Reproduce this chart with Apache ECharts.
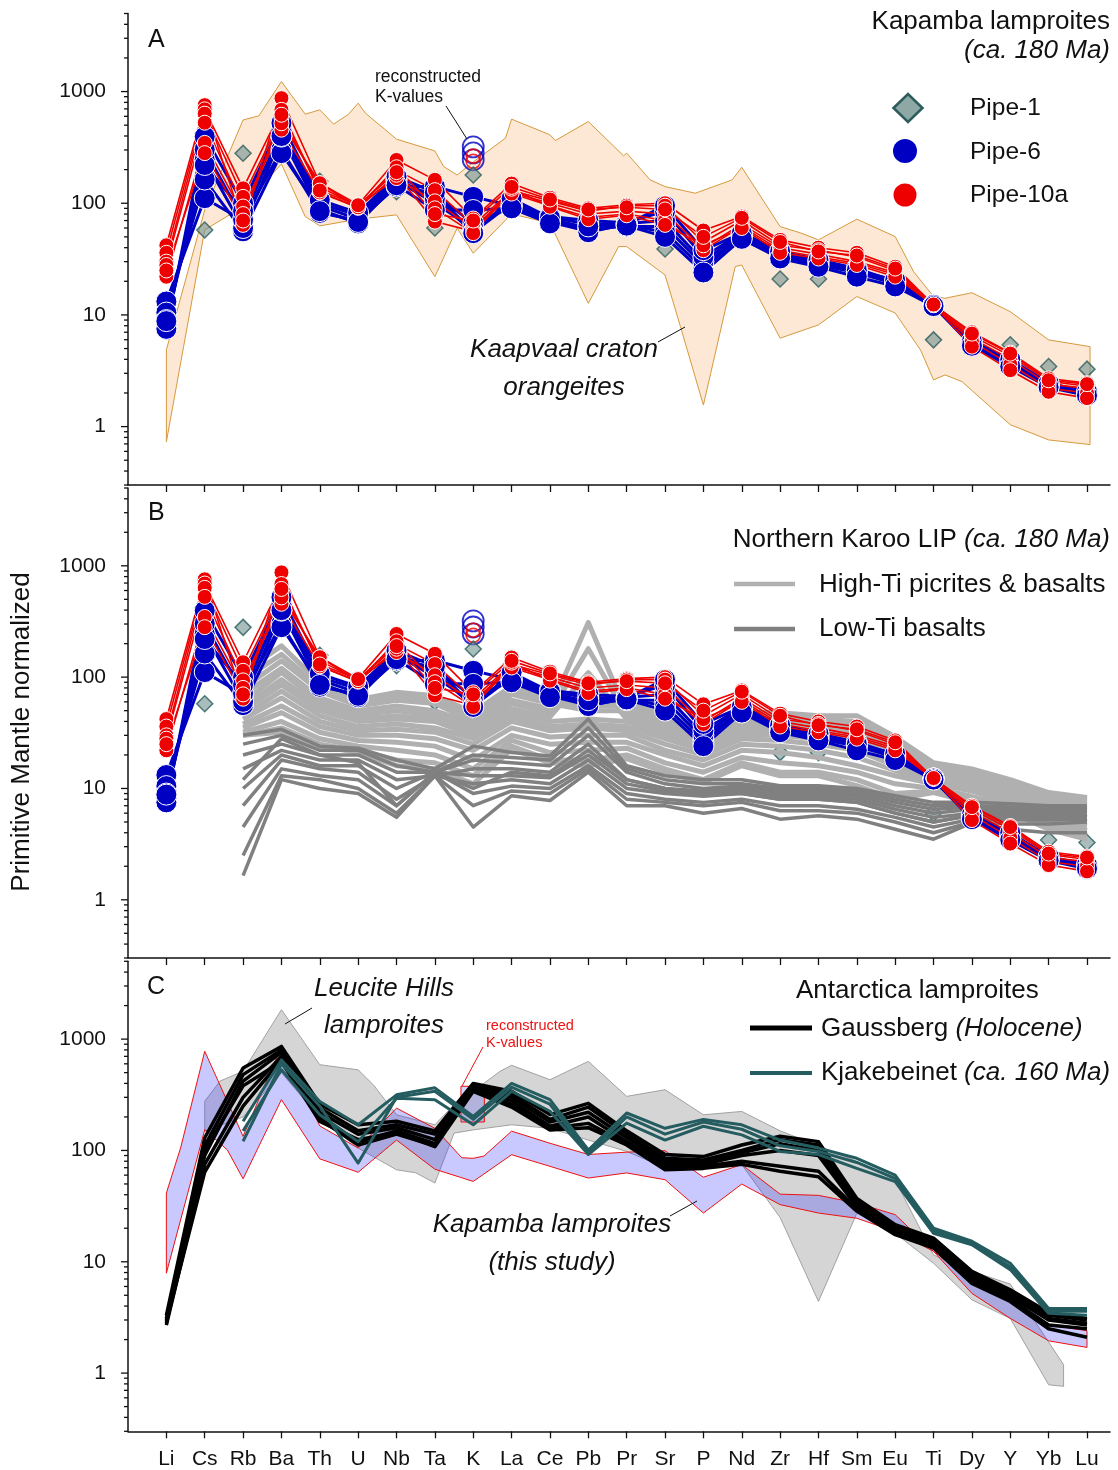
<!DOCTYPE html>
<html>
<head>
<meta charset="utf-8">
<title>Primitive-mantle normalized trace element patterns</title>
<script src="https://cdn.jsdelivr.net/npm/echarts@6/dist/echarts.min.js"></script>
<style>
  html, body { margin: 0; padding: 0; background: #fff; }
  #chart { width: 1118px; height: 1470px; }
</style>
</head>
<body>
<div id="chart"></div>
<script>
// ---------- element order (x axis) ----------
const elements = ['Li','Cs','Rb','Ba','Th','U','Nb','Ta','K','La','Ce','Pb','Pr','Sr','P','Nd','Zr','Hf','Sm','Eu','Ti','Dy','Y','Yb','Lu'];

// ---------- y axis ticks (log) ----------
const yLabelValues = [1, 10, 100, 1000];
const yTickMarks = [0.3,0.4,0.5,0.6,0.7,0.8,0.9,1,2,3,4,5,6,7,8,9,10,20,30,40,50,60,70,80,90,
                    100,200,300,400,500,600,700,800,900,1000,2000,3000,4000,5000];

// ---------- Kapamba lamproites (values Li..Lu) ----------
const pipe6 = [
  [13.2,111,70,302,82,70,141,141,114,95,72,60,62,62,28,50,33,28,24,19,12.3,5.5,3.7,2.35,1.98],
  [10.5,163,56,281,88,66,150,120,66,92,68,56,64,55,26,51,34,29,25,19.5,12.3,5.6,3.6,2.3,1.95],
  [9.0,245,60,395,95,72,160,100,60,97,75,65,66,70,30,53,36,30,25,20,12.3,5.4,3.5,2.3,1.93],
  [8.2,302,71,450,100,78,165,110,55,100,76,70,67,85,33,54,37,31,26,20,12.2,5.7,3.9,2.4,2.0],
  [7.5,395,100,523,107,82,173,125,54,110,74,55,65,95,38,54,37,31,25,20.5,12.3,5.8,4.0,2.45,2.05],
  [8.8,220,85,400,85,68,145,87,87,90,66,62,63,50,24,48,32,27,22,18,12.0,5.3,3.45,2.25,1.9]
];
const pipe10a = [
  [42,756,64,873,151,97,244,162,73,150,112,90,97,100,57,76,47,40,36,27,12.3,7.0,4.6,2.7,2.45],
  [36,693,136,686,125,93,198,131,64,130,105,85,95,95,45,70,42,38,33,25,12.3,6.5,4.3,2.55,2.3],
  [30,634,114,580,140,95,168,104,60,125,100,80,85,80,40,65,40,35,30,24,12.3,6.2,4.0,2.4,2.2],
  [28,526,93.5,456,125,91,180,68.5,56,122,95,75,80,70,38,62,38,33,29,23,12.3,5.8,3.6,2.2,2.0],
  [22,347,80,520,151,92,210,90,54,135,93,72,78,64,42,60,36,32,28,22,12.2,5.2,3.2,2.05,1.8],
  [25,281,70,620,130,96,190,80,70,140,108,88,92,88,50,74,45,37,34,26,12.4,6.8,4.5,2.6,2.4]
];
const pipe1 = [7.9,57.6,280,277,157,68.5,127,60,179,131,71,87,64,38.9,42.4,50.4,21,21,23.6,17.9,5.98,6.4,5.4,3.45,3.27];
const pipe6ReconstructedK = [320, 282, 245];
const pipe10aReconstructedK = [264, 237];
const kIndex = elements.indexOf('K');

// ---------- Kaapvaal craton orangeite field: [element position, value] ----------
const orangeiteUpper = [[0,4.86],[1,87],[2,557],[2.41,606],[3,1229],[3.62,627],[4,686],[4.36,511],[4.75,627],[5,787],
  [5.19,640],[6,375],[7,294],[7.23,213],[7.58,179],[8,234],[8.84,383],[9,566],[10,410],[10.14,364],[11,539],
  [11.92,266],[12,281],[12.61,162],[13,141],[13.79,123],[14.75,162],[15,210],[16,61.8],[16.53,54.3],[17,47],
  [18,72],[19,50.3],[19.48,24.4],[20,14.6],[20.3,14.1],[21,15.8],[22,10.7],[23,5.98],[24.08,5.2]];
const orangeiteLower = [[0,0.73],[1,57.7],[2,93.3],[3,225],[3.62,76],[4,62.7],[5,72],[6,78.7],[7,22],[7.58,59.8],
  [8,35.7],[9,80.3],[10,66.3],[11,12.7],[11.79,40.9],[12,40.9],[13,22.8],[13.4,7.9],[14,1.56],[14.83,27.1],
  [15,28],[16,6.19],[17,8.14],[18,14.6],[19,10.4],[19.66,4.86],[20,2.62],[20.3,2.9],[20.74,2.53],[22,1.04],
  [23,0.76],[24.08,0.69]];

// ---------- Northern Karoo LIP (values Rb..Lu) ----------
const karooStart = elements.indexOf('Rb');
const karooHighTi = [
  [110,191,89,63,73,68,48,83,68,59,59,45,34,48,48,45,45,29,17,15,12,9.2,8.3],
  [95,160,80,60,68,62,45,75,62,55,55,42,33,44,45,42,40,27,16.5,14,11.5,8.8,8],
  [80,140,75,55,62,58,40,70,58,50,50,40,30,42,42,40,38,26,16,13.5,11,8.5,7.6],
  [70,120,65,50,55,50,38,62,52,310,48,37,28,40,40,37,35,24,15,13,10.5,8,7.2],
  [60,110,60,46,50,46,35,58,48,180,45,35,27,37,38,35,33,23,14.5,12.5,10,7.7,7],
  [55,95,55,42,45,42,32,52,44,110,42,32,25,35,35,32,30,21,14,12,9.5,7.3,6.6],
  [50,85,50,40,42,40,30,48,40,42,40,30,24,32,32,30,28,20,13.5,11.5,9.2,7,6.3],
  [45,75,45,36,38,35,28,44,36,38,36,28,22,30,30,28,25,18,13,11,8.8,6.6,6],
  [42,65,40,33,34,32,25,40,33,35,33,25,20,28,27,25,22,16,12,10.5,8.3,6.2,5.5],
  [38,55,36,30,30,28,22,35,29,30,30,22,18,25,24,22,19,14.5,11.5,10,7.8,5.8,5],
  [35,48,32,27,26,24,18,30,25,26,26,20,16,22,21,19,16,13,11,9.5,7.3,5.3,4.6],
  [32,40,28,24,22,20,15,27,21,22,23,17,14,19,17,16,14,11,10,8.5,6.8,5,4.2],
  [30,35,25,22,18,17,13,24,18,18,20,15,12,17,14,14,12,9,9.5,8,6.4,4.6,3.8],
  [30,32,24,21,16,15,11,22.6,17,16,18.5,14,11.3,16,13,13,10.6,8,9.2,7.5,6.1,4.3,3.5]
];
const karooLowTi = [
  [30,34,24,23,18,15,24,21,19.6,42,16,13,12,12,10.6,10.6,10,8.6,7.5,7.5,7.3,7,7],
  [25,30,22,22,16,14,20,19,18,35,15,12,11,11,10,10,9.5,8,7,7,6.8,6.7,6.8],
  [20,25,20,20,14,14,18,17,16,30,14,11,10,10.5,9.5,9.5,9,7.5,6.5,6.8,6.5,6.5,6.5],
  [15,22,18,18,12,13,15,15,14,25,12,10,9.5,10,9,9,8.5,7,6,6.5,6.2,6.2,6.2],
  [10,20,16,16,10,14,13,13,12.5,20,11,9.5,9,9.5,8.5,8.5,8,6.5,5.5,6,6,6,6],
  [7,18,15,14,8,13,11,12,11,18,10,9,8.5,9,8,8,7.5,6,5,5.7,5.6,5.6,5.6],
  [4.5,15,13,12,7,14,9,10.5,10,16,9,8,7.5,8,7,7,6.5,5.5,4.5,5.3,5.2,5.2,5.3],
  [2.5,13,12,10,6,13,7,9.5,9,15,8,7.5,7,7.5,6.3,6.3,6,5,4,5,4.8,4.8,5],
  [1.65,12,10,9,5.5,13,4.5,8.6,7.8,14,7,7,6,6.6,5.3,5.7,5.3,4.3,3.5,4.9,4.3,4,4],
  [12,28,20,17,7,14,10,14,13,22,12,10,9,9,8,8,7.5,6,5,5.8,5.5,5.4,5.5]
];

// ---------- Leucite Hills lamproite field: [element position, value] ----------
const leuciteUpper = [[1,276],[1.4,420],[2,514],[3,1837],[4,589],[5,530],[5.4,387],[6,209],[7,170],[7.5,258],
  [8,340],[8.7,514],[9,582],[10,432],[11,631],[12,306],[13,351],[14,209],[15,224],[16,150],[17,110],[18,80],
  [19,54],[20,11.5],[21,8.2],[22,6.3],[23.39,1.19]];
const leuciteLower = [[1,149],[2,200],[3,500],[4,195],[5,105],[6,67],[6.5,63],[7,51],[7.5,143],[8,153],[9,170],
  [10,158],[11,124],[12,98],[13,70],[14,69],[15,74.5],[16,25],[17,4.4],[18,27.3],[19,18],[20,9.7],[21,4.55],
  [22,3.1],[23,0.785],[23.39,0.76]];

// ---------- Kapamba lamproite field (panel C): [element position, value] ----------
const kapambaUpper = [[0,41.4],[0.37,105],[1,777],[2,134],[3,862],[4,166],[5,105],[6,240],[7,158],[7.7,86],[8,85],
  [8.28,89],[9,149],[10,116],[11,92],[12,96.5],[13,99.5],[14,57.5],[15,74.5],[16,40.5],[17,39.5],[18,33.7],
  [19,26.5],[20,12.4],[21,6.9],[22,4.7],[23,2.72],[24,2.4]];
const kapambaLower = [[0,7.9],[1,153.5],[1.59,101],[2,55.6],[3,286],[4,84],[5,63.7],[6,124],[7,67.8],[8,52.7],
  [9,91.5],[10,72],[11,56.5],[12,62.8],[13,54.6],[14,27.4],[15,49.9],[16,32.6],[17,27.4],[18,24.6],[19,18.7],
  [20,12.4],[21,5.2],[22,3.1],[23,1.95],[24,1.7]];
const reconstructedKBox = { from: 7.68, to: 8.29, low: 180, high: 377 };

// ---------- Antarctica lamproites ----------
const gaussberg = [   // Li..Lu
  [3.3,130,550,860,260,170,183,150,400,340,210,265,150,92,88,112,134,120,37,21.5,16.3,8.2,5.6,3.5,3.1],
  [3.0,110,480,800,240,150,170,140,390,320,190,245,140,85,82,100,125,112,35,20.5,15.5,7.8,5.3,3.3,3.0],
  [2.8,90,420,760,220,140,160,125,370,300,180,220,130,80,78,95,115,100,33,19.5,15,7.4,5.1,3.1,2.8],
  [2.7,75,300,700,200,120,150,115,360,280,165,200,120,75,75,90,100,90,31,19,14.5,7,4.9,3.0,2.7],
  [2.9,64,250,650,190,112,140,110,350,260,158,175,115,70,72,80,72,65,30,18,14,6.6,4.6,2.7,2.5],
  [3.1,100,380,630,182,125,145,108,340,245,153,160,112,67,69,75,65,58,28.5,17.5,13.3,6.4,4.4,2.5,2.1]
];
const kjakebeinetStart = elements.indexOf('Rb');
const kjakebeinet = [ // Rb..Lu
  [183,650,275,170,316,365,202,400,286,101,217,158,190,170,124,105,85,60,20,15.3,9.7,3.8,3.8],
  [121,600,250,77,300,340,190,370,260,95,200,140,180,155,110,98,78,56,19,14.7,9,3.6,3.6],
  [150,530,209,120,295,285,170,340,225,92,176,124,165,138,98,92,69,52.5,18,14.2,8.5,3.45,3.3]
];

// ---------- styling ----------
const FONT = '"Liberation Sans", Arial, Helvetica, sans-serif';
const INK = '#111';
const BLUE = '#0000c2';
const RED = '#ee0000';
const TEAL = '#245c60';
const HI_TI = '#b0b0b0';
const LO_TI = '#808080';
const TXT = 26;
const elementPositions = elements.map((_, i) => i);

const chart = echarts.init(document.getElementById('chart'), null, { renderer: 'canvas' });

const grids = [
  { left: 128, right: 8, top: 13.5, height: 471.5 },
  { left: 128, right: 8, top: 488, height: 470 },
  { left: 128, right: 8, top: 961.3, height: 470 }
];

function xAxisFor(g) {
  return {
    type: 'value', gridIndex: g, min: -1, max: 24.6, interval: 1,
    axisLine: { show: true, onZero: false, lineStyle: { color: INK, width: 1.5 } },
    axisTick: { show: true, inside: false, length: 7, customValues: elementPositions, lineStyle: { color: INK, width: 1.3 } },
    splitLine: { show: false },
    axisLabel: {
      show: g === 2, customValues: elementPositions, margin: 17,
      fontSize: 21, fontFamily: FONT, color: INK,
      formatter: v => (Number.isInteger(v) && v >= 0 && v < elements.length) ? elements[v] : ''
    }
  };
}
function yAxisFor(g) {
  return {
    type: 'log', logBase: 10, gridIndex: g, min: 0.3, max: 5000,
    axisLine: { show: true, onZero: false, lineStyle: { color: INK, width: 1.5 } },
    axisTick: { show: false },
    minorTick: { show: false },
    splitLine: { show: false },
    axisLabel: {
      margin: 22, fontSize: 21, fontFamily: FONT, color: INK,
      formatter: v => {
        const r = Math.round(v);
        return (Math.abs(v - r) < 1e-6 && yLabelValues.includes(r)) ? String(r) : '';
      }
    }
  };
}

const profile = (vals, start) => vals.map((v, i) => [start + i, v]);

function polygonSeries(g, upper, lower, style) {
  const pts = upper.concat(lower.slice().reverse());
  return {
    type: 'custom', xAxisIndex: g, yAxisIndex: g, silent: true, data: pts,
    renderItem(params, api) {
      if (params.dataIndex !== 0) return null;
      return { type: 'polygon', shape: { points: pts.map(p => api.coord(p)) }, style: style };
    }
  };
}
function tickSeries(g) {
  return {
    type: 'custom', xAxisIndex: g, yAxisIndex: g, silent: true, z: 5,
    data: yTickMarks.map(v => [-1, v]),
    renderItem(params, api) {
      const v = api.value(1);
      const p = api.coord([-1, v]);
      const len = yLabelValues.includes(v) ? 7 : 4;
      return { type: 'line', shape: { x1: p[0] - len, y1: p[1], x2: p[0], y2: p[1] },
               style: { stroke: INK, lineWidth: 1.3 } };
    }
  };
}
function plainLine(g, vals, start, color, width) {
  return {
    type: 'line', xAxisIndex: g, yAxisIndex: g, silent: true, symbol: 'none',
    data: profile(vals, start),
    lineStyle: { color: color, width: width, join: 'round' }
  };
}
function kapambaSeries(g) {
  const out = [];
  pipe6.forEach(vals => out.push({
    type: 'line', xAxisIndex: g, yAxisIndex: g, silent: true,
    data: profile(vals, 0), symbol: 'circle', symbolSize: 21,
    itemStyle: { color: BLUE, borderColor: '#fff', borderWidth: 1 },
    lineStyle: { color: BLUE, width: 3 }
  }));
  pipe10a.forEach(vals => out.push({
    type: 'line', xAxisIndex: g, yAxisIndex: g, silent: true,
    data: profile(vals, 0), symbol: 'circle', symbolSize: 15,
    itemStyle: { color: RED, borderColor: '#fff', borderWidth: 1 },
    lineStyle: { color: RED, width: 1.6 }
  }));
  out.push({
    type: 'scatter', xAxisIndex: g, yAxisIndex: g, silent: true,
    data: pipe6ReconstructedK.map(v => [kIndex, v]), symbol: 'circle', symbolSize: 21,
    itemStyle: { color: 'rgba(255,255,255,0)', borderColor: BLUE, borderWidth: 1.8 }
  });
  out.push({
    type: 'scatter', xAxisIndex: g, yAxisIndex: g, silent: true,
    data: pipe10aReconstructedK.map(v => [kIndex, v]), symbol: 'circle', symbolSize: 14,
    itemStyle: { color: 'rgba(255,255,255,0)', borderColor: RED, borderWidth: 1.6 }
  });
  out.push({
    type: 'scatter', xAxisIndex: g, yAxisIndex: g, silent: true,
    data: profile(pipe1, 0), symbol: 'diamond', symbolSize: [16, 16],
    itemStyle: { color: 'rgba(105,140,140,0.72)', borderColor: '#2c5c5c', borderWidth: 1.5 }
  });
  return out;
}

const series = [];
// Panel A
series.push(polygonSeries(0, orangeiteUpper, orangeiteLower, { fill: '#fde8d5', stroke: '#d69a3c', lineWidth: 1 }));
series.push(...kapambaSeries(0));
// Panel B
karooHighTi.forEach(v => series.push(plainLine(1, v, karooStart, HI_TI, 5)));
karooLowTi.forEach(v => series.push(plainLine(1, v, karooStart, LO_TI, 3.5)));
series.push(...kapambaSeries(1));
// Panel C
series.push(polygonSeries(2, leuciteUpper, leuciteLower, { fill: '#d5d5d5', stroke: '#a2a2a2', lineWidth: 1 }));
gaussberg.forEach(v => series.push(plainLine(2, v, 0, '#000', 3.5)));
series.push(polygonSeries(2, kapambaUpper, kapambaLower, { fill: 'rgba(40,40,255,0.25)', stroke: '#ee1111', lineWidth: 1 }));
series.push({
  type: 'custom', xAxisIndex: 2, yAxisIndex: 2, silent: true,
  data: [[reconstructedKBox.from, reconstructedKBox.high], [reconstructedKBox.to, reconstructedKBox.low]],
  renderItem(params, api) {
    if (params.dataIndex !== 0) return null;
    const a = api.coord([reconstructedKBox.from, reconstructedKBox.high]);
    const b = api.coord([reconstructedKBox.to, reconstructedKBox.low]);
    return { type: 'rect', shape: { x: a[0], y: a[1], width: b[0] - a[0], height: b[1] - a[1] },
             style: { fill: 'rgba(40,40,255,0.2)', stroke: '#ee1111', lineWidth: 1 } };
  }
});
kjakebeinet.forEach(v => series.push(plainLine(2, v, kjakebeinetStart, TEAL, 3)));
// axis tick marks (major + minor) on the log axes
[0, 1, 2].forEach(g => series.push(tickSeries(g)));

// ---------- annotations ----------
function text(x, y, str, size, opt) {
  opt = opt || {};
  return {
    type: 'text', x: x, y: y, silent: true, z: 100,
    style: {
      text: str, fontSize: size, fontFamily: FONT, fill: opt.fill || INK,
      fontStyle: opt.italic ? 'italic' : 'normal',
      align: opt.align || 'left', verticalAlign: 'middle'
    }
  };
}
function richText(x, y, plain, italic, size, align) {
  return {
    type: 'text', x: x, y: y, silent: true, z: 100,
    style: {
      text: '{a|' + plain + '}{b|' + italic + '}',
      align: align || 'left', verticalAlign: 'middle',
      rich: {
        a: { fontSize: size, fontFamily: FONT, fill: INK },
        b: { fontSize: size, fontFamily: FONT, fill: INK, fontStyle: 'italic' }
      }
    }
  };
}
function seg(x1, y1, x2, y2, color, width) {
  return { type: 'line', silent: true, z: 100, shape: { x1, y1, x2, y2 }, style: { stroke: color, lineWidth: width } };
}

const graphic = [
  // y-axis title
  { type: 'text', x: 22, y: 732, rotation: Math.PI / 2, silent: true, z: 100,
    style: { text: 'Primitive Mantle normalized', fontSize: TXT, fontFamily: FONT, fill: INK, align: 'center', verticalAlign: 'middle' } },
  // panel letters
  text(148, 40, 'A', 25), text(148, 513, 'B', 25), text(147, 987, 'C', 25),

  // Panel A header + legend
  text(1110, 22, 'Kapamba lamproites', TXT, { align: 'right' }),
  text(1110, 51, '(ca. 180 Ma)', TXT, { align: 'right', italic: true }),
  { type: 'polygon', silent: true, z: 100, shape: { points: [[893.5,108],[908,94],[922.5,108],[908,122]] },
    style: { fill: '#8ea8a5', stroke: '#2c5c5c', lineWidth: 2.5 } },
  { type: 'circle', silent: true, z: 100, shape: { cx: 905, cy: 151, r: 12 }, style: { fill: BLUE } },
  { type: 'circle', silent: true, z: 100, shape: { cx: 905, cy: 195, r: 11.5 }, style: { fill: RED } },
  text(970, 108, 'Pipe-1', 24.5), text(970, 152, 'Pipe-6', 24.5), text(970, 195, 'Pipe-10a', 24.5),
  // Panel A notes
  text(375, 77, 'reconstructed', 17.5), text(375, 97, 'K-values', 17.5),
  seg(446, 106, 467, 139, INK, 1),
  text(564, 350, 'Kaapvaal craton', TXT, { align: 'center', italic: true }),
  text(564, 388, 'orangeites', TXT, { align: 'center', italic: true }),
  seg(658, 342, 685, 327, INK, 1),

  // Panel B header + legend
  richText(1110, 540, 'Northern Karoo LIP ', '(ca. 180 Ma)', TXT, 'right'),
  seg(734, 584, 795, 584, HI_TI, 4.5), text(819, 585, 'High-Ti picrites & basalts', TXT),
  seg(734, 629, 795, 629, LO_TI, 4.5), text(819, 629, 'Low-Ti basalts', TXT),

  // Panel C header + legend
  text(796, 991, 'Antarctica lamproites', TXT),
  seg(750, 1028, 812, 1028, '#000', 5), richText(821, 1029, 'Gaussberg ', '(Holocene)', TXT),
  seg(750, 1073, 812, 1073, TEAL, 4), richText(821, 1073, 'Kjakebeinet ', '(ca. 160 Ma)', TXT),
  // Panel C notes
  text(384, 989, 'Leucite Hills', TXT, { align: 'center', italic: true }),
  text(384, 1026, 'lamproites', TXT, { align: 'center', italic: true }),
  seg(312, 1008, 285, 1024, INK, 1),
  text(486, 1026, 'reconstructed', 14.5, { fill: '#ee1111' }),
  text(486, 1043, 'K-values', 14.5, { fill: '#ee1111' }),
  seg(462, 1086, 483, 1047, '#ee1111', 1),
  text(552, 1225, 'Kapamba lamproites', TXT, { align: 'center', italic: true }),
  text(552, 1263, '(this study)', TXT, { align: 'center', italic: true }),
  seg(670, 1216, 697, 1201, INK, 1)
];

chart.setOption({
  animation: false,
  backgroundColor: '#fff',
  grid: grids,
  xAxis: [0, 1, 2].map(xAxisFor),
  yAxis: [0, 1, 2].map(yAxisFor),
  series: series,
  graphic: graphic
});
</script>
</body>
</html>
